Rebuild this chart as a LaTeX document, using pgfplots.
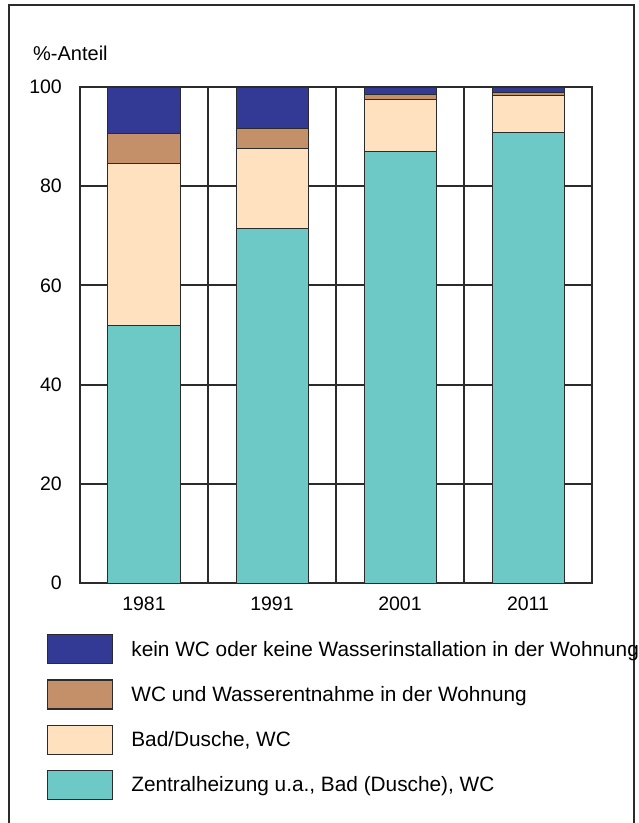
\documentclass[border=0pt]{standalone}
\usepackage{fontspec}
\setmainfont{Liberation Sans}
\usepackage{pgfplots}
\pgfplotsset{compat=1.18}
\definecolor{cblue}{HTML}{333A96}
\definecolor{cbrown}{HTML}{C4906A}
\definecolor{cpeach}{HTML}{FFE0BF}
\definecolor{cteal}{HTML}{6CC9C6}
\definecolor{cline}{HTML}{2B2B2B}
\pgfplotsset{myleg/.style={legend image code/.code={\draw[##1,draw=cline,line width=1.2pt] (0pt,-14.5pt) rectangle (65pt,14.5pt);}}}
\pgfplotstableread{
x   teal  peach brown blue
0.5 52.0  32.6  6.1   9.3
1.5 71.4  16.2  4.1   8.3
2.5 87.0  10.4  1.0   1.6
3.5 90.9  7.3   0.7   1.1
}\datatable
\begin{document}
\begin{tikzpicture}
\useasboundingbox (0pt,0pt) rectangle (639pt,-823pt);
\draw[line width=2pt, draw=cline] (9pt,-5pt) rectangle (634pt,-835pt);
\node[anchor=base west, font=\fontsize{20}{24}\selectfont, inner sep=0pt] at (33pt,-60pt) {\%-Anteil};
\begin{axis}[
 at={(80pt,-583pt)}, anchor=south west,
 width=512pt, height=496pt, scale only axis,
 xmin=0, xmax=4, ymin=0, ymax=100,
 ybar stacked, bar width=0.5625,
 xtick={0.5,1.5,2.5,3.5}, xticklabels={1981,1991,2001,2011},
 minor xtick={1,2,3}, xminorgrids,
 ytick={0,20,...,100}, ymajorgrids,
 major tick length=0pt, minor tick length=0pt,
 grid style={line width=2pt, draw=cline},
 minor grid style={line width=2pt, draw=cline},
 axis line style={line width=2.5pt, draw=cline},
 tick label style={font=\fontsize{19.5}{23}\selectfont, inner sep=0pt},
 /pgf/number format/assume math mode=true,
 yticklabel style={anchor=east, xshift=-18pt},
 xticklabel style={anchor=north, yshift=-14pt},
 legend style={at={(axis description cs:-0.0645,-0.1028)}, anchor=north west,
   draw=none, fill=none, inner sep=0pt, font=\fontsize{20.8}{24}\selectfont,
   row sep=15pt, /tikz/every odd column/.append style={column sep=16pt}},
 legend cell align=left,
 reverse legend,
]
\addplot[fill=cteal, draw=cline, line width=1pt, myleg] table[x=x,y=teal] {\datatable};
\addlegendentry{Zentralheizung u.a., Bad (Dusche), WC}
\addplot[fill=cpeach, draw=cline, line width=1pt, myleg] table[x=x,y=peach] {\datatable};
\addlegendentry{Bad/Dusche, WC}
\addplot[fill=cbrown, draw=cline, line width=1pt, myleg] table[x=x,y=brown] {\datatable};
\addlegendentry{WC und Wasserentnahme in der Wohnung}
\addplot[fill=cblue, draw=cline, line width=1pt, myleg] table[x=x,y=blue] {\datatable};
\addlegendentry{kein WC oder keine Wasserinstallation in der Wohnung}
\end{axis}
\end{tikzpicture}
\end{document}
